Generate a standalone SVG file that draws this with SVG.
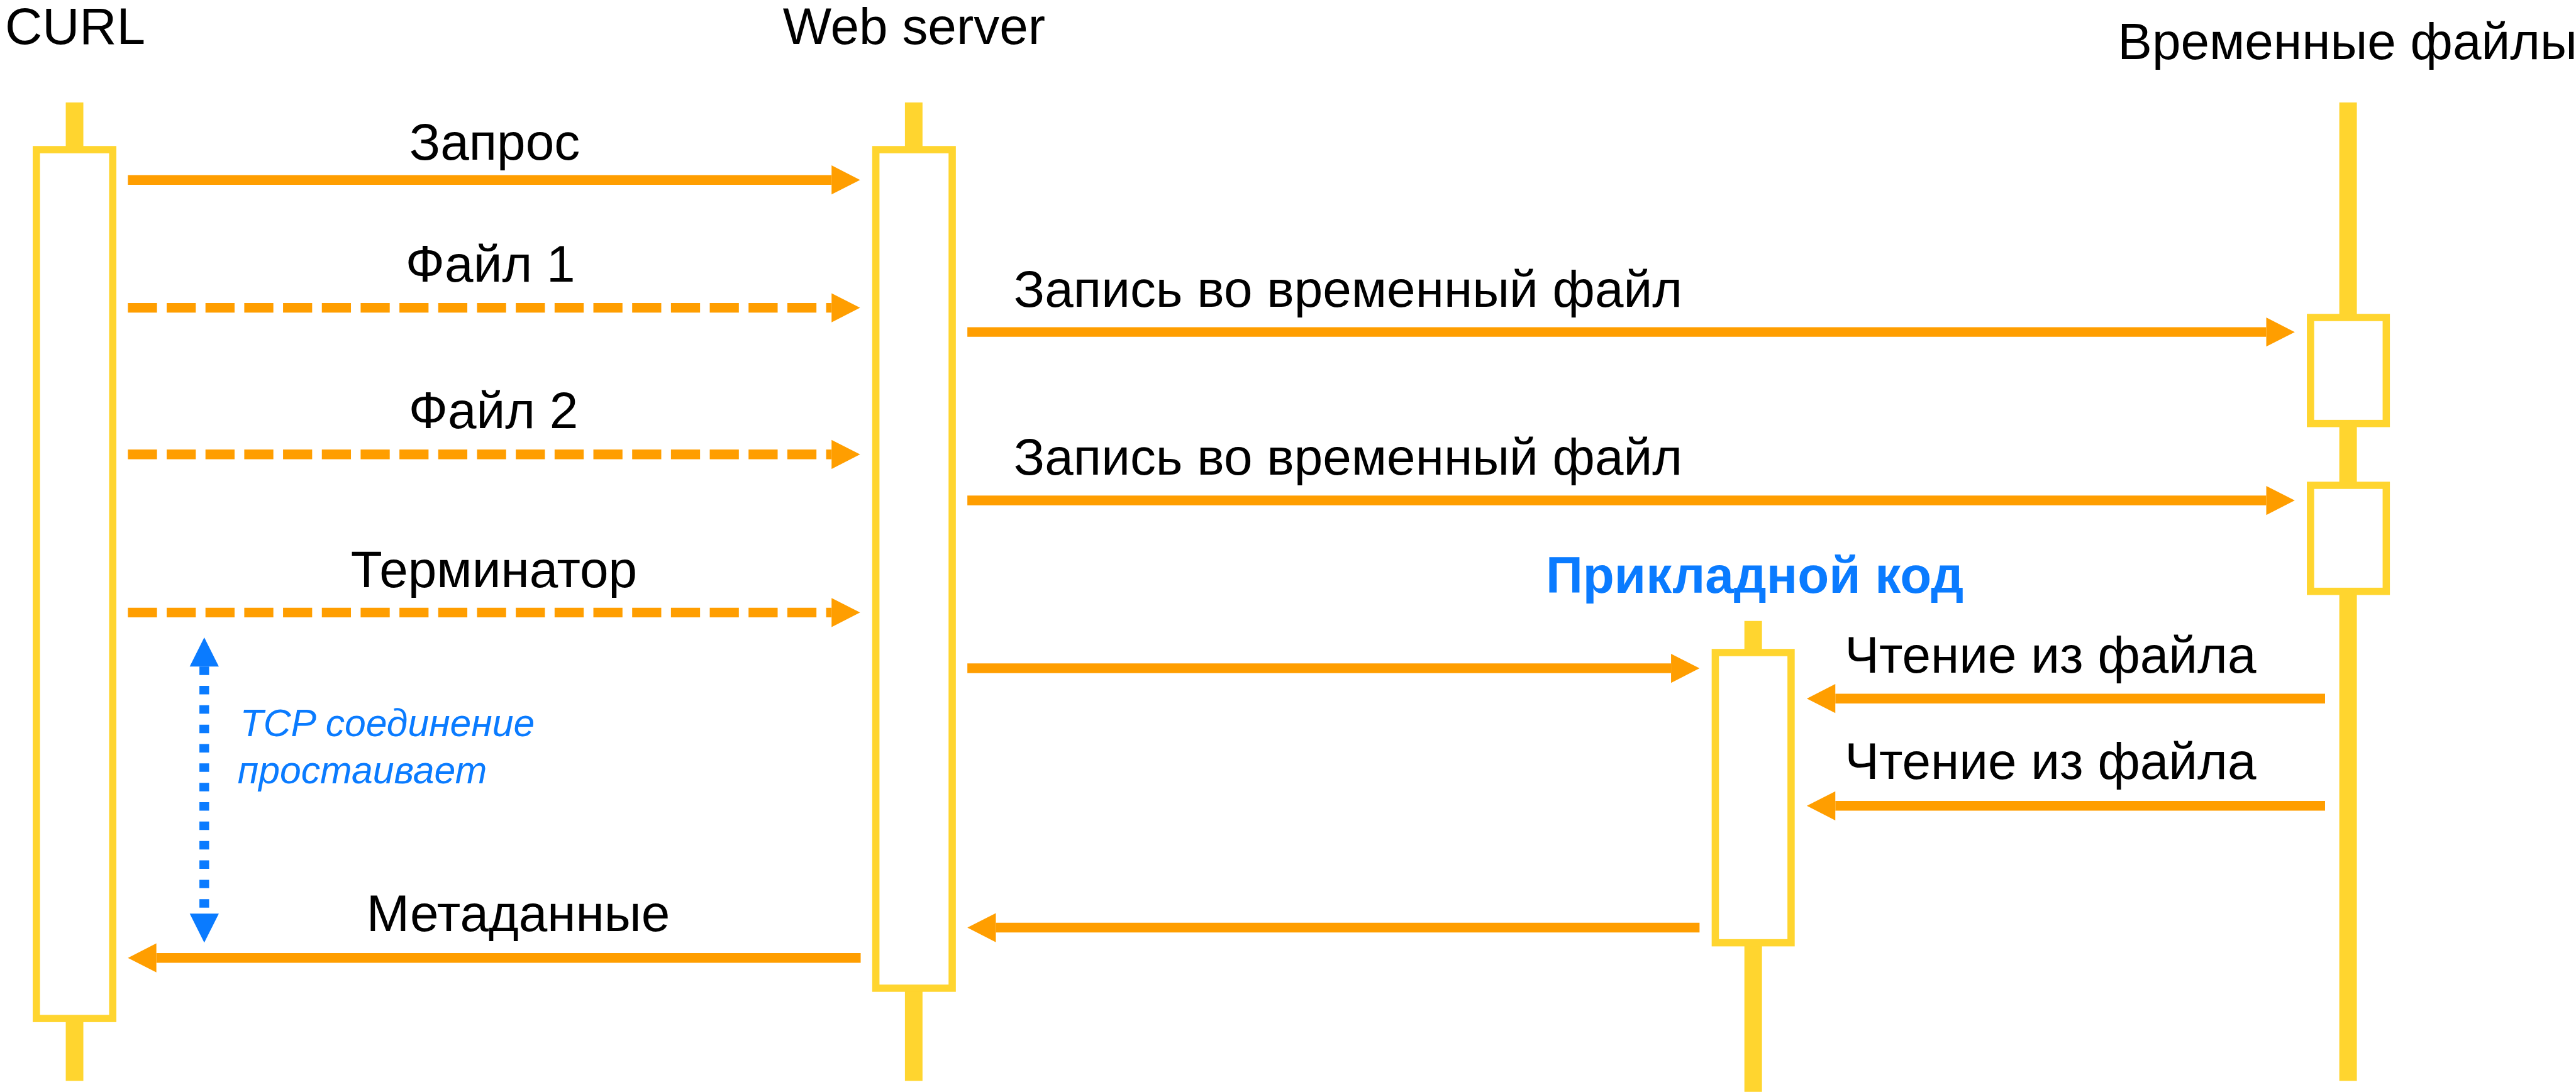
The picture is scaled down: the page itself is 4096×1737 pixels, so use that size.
<svg xmlns="http://www.w3.org/2000/svg" width="4096" height="1737" viewBox="0 0 4096 1737">
  <style>
    .life { stroke: #FFD52F; stroke-width: 29; fill: none; }
    .box { stroke: #FFD52F; stroke-width: 12; fill: #FFFFFF; }
    .msg { stroke: #FF9E00; stroke-width: 16; fill: none; }
    .dash { stroke-dasharray: 48 16; }
    .lbl { font-family: "Liberation Sans", Arial, sans-serif; font-size: 85px; fill: #000000; }
    .mid { text-anchor: middle; }
    .app { font-family: "Liberation Sans", Arial, sans-serif; font-size: 85px; font-weight: bold; fill: #0A7BFF; }
    .note { font-family: "Liberation Sans", Arial, sans-serif; font-size: 63px; font-style: italic; fill: #0A7BFF; }
    .idle { stroke: #0A7BFF; stroke-width: 16; stroke-dasharray: 14 18; fill: none; }
  </style>
  <defs>
    <marker id="head" markerUnits="userSpaceOnUse" markerWidth="48" markerHeight="48" refX="0" refY="24" orient="auto" overflow="visible">
      <path d="M0,0 L47,24 L0,48 Z" fill="#FF9E00"/>
    </marker>
    <marker id="headBlue" markerUnits="userSpaceOnUse" markerWidth="48" markerHeight="48" refX="0" refY="24" orient="auto-start-reverse" overflow="visible">
      <path d="M0,0 L48,24 L0,48 Z" fill="#0A7BFF"/>
    </marker>
  </defs>

  <rect x="0" y="0" width="4096" height="1737" fill="#FFFFFF"/>

  <g transform="scale(0.96376)">
    <!-- CURL client -->
    <g id="curl">
      <text class="lbl mid" x="124" y="73">CURL</text>
      <line class="life" x1="123" y1="169" x2="123" y2="1784"/>
      <rect class="box" x="60" y="247" width="126" height="1434"/>
    </g>

    <!-- Web server -->
    <g id="web-server">
      <text class="lbl mid" x="1508" y="73">Web server</text>
      <line class="life" x1="1507.5" y1="169" x2="1507.5" y2="1784"/>
      <rect class="box" x="1445" y="247" width="126" height="1384"/>
    </g>

    <!-- Application code -->
    <g id="app-code">
      <text class="app mid" x="2895" y="978">Прикладной код</text>
      <line class="life" x1="2892.5" y1="1025" x2="2892.5" y2="1802"/>
      <rect class="box" x="2830" y="1077" width="125" height="479"/>
    </g>

    <!-- Temporary files -->
    <g id="temp-files">
      <text class="lbl mid" x="3873" y="98">Временные файлы</text>
      <line class="life" x1="3874" y1="169" x2="3874" y2="1784"/>
      <rect class="box" x="3812" y="524" width="125" height="175"/>
      <rect class="box" x="3812" y="801" width="125" height="175"/>
    </g>

    <!-- Messages -->
    <g id="connectors">
      <line class="msg" x1="211" y1="297" x2="1372" y2="297" marker-end="url(#head)"/>
      <line class="msg dash" x1="211" y1="508" x2="1372" y2="508" marker-end="url(#head)"/>
      <line class="msg dash" x1="211" y1="750" x2="1372" y2="750" marker-end="url(#head)"/>
      <line class="msg dash" x1="211" y1="1011" x2="1372" y2="1011" marker-end="url(#head)"/>
      <line class="msg" x1="1596" y1="548" x2="3739" y2="548" marker-end="url(#head)"/>
      <line class="msg" x1="1596" y1="826" x2="3739" y2="826" marker-end="url(#head)"/>
      <line class="msg" x1="1596" y1="1103" x2="2757" y2="1103" marker-end="url(#head)"/>
      <line class="msg" x1="3836" y1="1153" x2="3028" y2="1153" marker-end="url(#head)"/>
      <line class="msg" x1="3836" y1="1330" x2="3028" y2="1330" marker-end="url(#head)"/>
      <line class="msg" x1="2804" y1="1531" x2="1643" y2="1531" marker-end="url(#head)"/>
      <line class="msg" x1="1420" y1="1581" x2="258" y2="1581" marker-end="url(#head)"/>
      <line class="idle" x1="337" y1="1100" x2="337" y2="1508" marker-start="url(#headBlue)" marker-end="url(#headBlue)"/>
    </g>

    <!-- Message labels -->
    <g id="labels">
      <text class="lbl mid" x="816" y="264">Запрос</text>
      <text class="lbl mid" x="809" y="465">Файл 1</text>
      <text class="lbl mid" x="814" y="707">Файл 2</text>
      <text class="lbl mid" x="815" y="969">Терминатор</text>
      <text class="lbl mid" x="855" y="1537">Метаданные</text>
      <text class="lbl mid" x="2224" y="506">Запись во временный файл</text>
      <text class="lbl mid" x="2224" y="783">Запись во временный файл</text>
      <text class="lbl mid" x="3383" y="1110">Чтение из файла</text>
      <text class="lbl mid" x="3383" y="1286">Чтение из файла</text>
      <text class="note" x="396" y="1215">TCP соединение</text>
      <text class="note" x="392" y="1293">простаивает</text>
    </g>
  </g>
</svg>
